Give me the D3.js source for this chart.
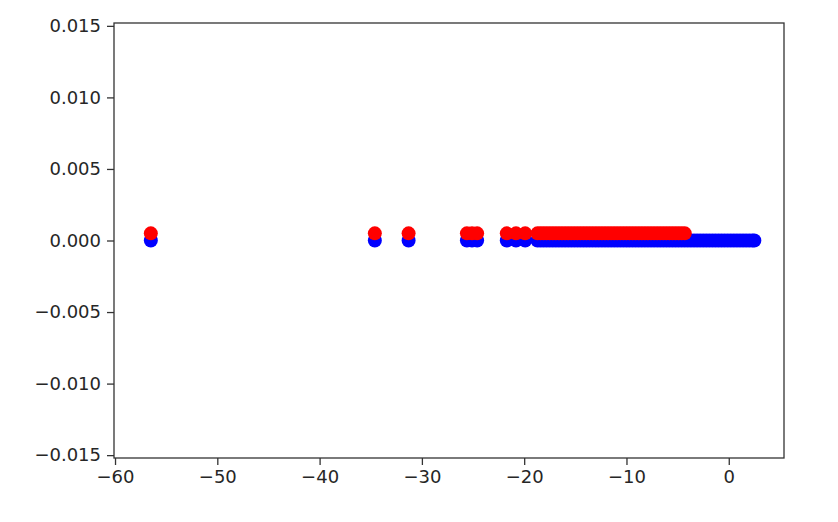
<html>
<head>
<meta charset="utf-8">
<title>Scatter</title>
<style>
body { margin: 0; background: white; }
svg { display: block; }
.axis text { font-family: "DejaVu Sans", sans-serif; font-size: 18px; fill: #262626; }
.axis path, .axis line { stroke: #333; stroke-width: 1.3px; }
.frame { fill: none; stroke: #333; stroke-width: 1.3px; }
</style>
</head>
<body>
<svg id="chart"></svg>
<script src="https://cdn.jsdelivr.net/npm/d3@7"></script>
<script>

// x positions of each series
var xRed = [-56.5, -34.6, -31.3, -25.6, -25.1, -24.6, -21.7, -20.8, -19.9, -18.7,
  -18.4, -18.1, -17.8, -17.5, -17.2, -16.9, -16.6, -16.3, -16.0, -15.7,
  -15.4, -15.1, -14.8, -14.5, -14.2, -13.9, -13.6, -13.3, -13.0, -12.7,
  -12.4, -12.1, -11.8, -11.5, -11.2, -10.9, -10.6, -10.3, -10.0, -9.7,
  -9.4, -9.1, -8.8, -8.5, -8.2, -7.9, -7.6, -7.3, -7.0, -6.7,
  -6.4, -6.1, -5.8, -5.5, -5.2, -4.9, -4.6, -4.3];
var xBlue = [-56.5, -34.6, -31.3, -25.6, -25.1, -24.6, -21.7, -20.8, -19.9, -18.7,
  -18.4, -18.1, -17.8, -17.5, -17.2, -16.9, -16.6, -16.3, -16.0, -15.7,
  -15.4, -15.1, -14.8, -14.5, -14.2, -13.9, -13.6, -13.3, -13.0, -12.7,
  -12.4, -12.1, -11.8, -11.5, -11.2, -10.9, -10.6, -10.3, -10.0, -9.7,
  -9.4, -9.1, -8.8, -8.5, -8.2, -7.9, -7.6, -7.3, -7.0, -6.7,
  -6.4, -6.1, -5.8, -5.5, -5.2, -4.9, -4.6, -4.3, -4.0, -3.7,
  -3.4, -3.1, -2.8, -2.5, -2.2, -1.9, -1.6, -1.3, -1.0, -0.7,
  -0.4, -0.1, 0.2, 0.5, 0.8, 1.1, 1.4, 1.7, 2.0, 2.3, 2.5];
var yBlue = 0;
var yRed = 0.0005;

var xTicks = [-60, -50, -40, -30, -20, -10, 0];
var yTicks = [-0.015, -0.010, -0.005, 0.000, 0.005, 0.010, 0.015];

var W = 838, H = 522;
var margin = {left: 114, right: 784, top: 23, bottom: 458};

var svg = d3.select("#chart").attr("width", W).attr("height", H);

var x = d3.scaleLinear().domain([-60.1, 5.4]).range([margin.left, margin.right]);
var y = d3.scaleLinear().domain([-0.0152, 0.0152]).range([margin.bottom, margin.top]);

var xAxis = d3.axisBottom(x).tickValues(xTicks).tickFormat(d3.format("d"))
    .tickSizeOuter(0).tickSize(7).tickPadding(5);
var yAxis = d3.axisLeft(y).tickValues(yTicks).tickFormat(d3.format(".3f"))
    .tickSizeOuter(0).tickSize(7).tickPadding(6);

svg.append("g")
    .attr("class", "x axis")
    .attr("transform", "translate(0," + margin.bottom + ")")
    .call(xAxis)
    .call(function(g) { g.select(".domain").remove(); });

svg.append("g")
    .attr("class", "y axis")
    .attr("transform", "translate(" + margin.left + ",0)")
    .call(yAxis)
    .call(function(g) { g.select(".domain").remove(); });

svg.append("g").selectAll("circle")
    .data(xBlue)
  .enter().append("circle")
    .attr("cx", function(d) { return x(d); })
    .attr("cy", y(yBlue))
    .attr("r", 7)
    .attr("fill", "blue");

svg.append("g").selectAll("circle")
    .data(xRed)
  .enter().append("circle")
    .attr("cx", function(d) { return x(d); })
    .attr("cy", y(yRed))
    .attr("r", 7)
    .attr("fill", "red");

svg.append("rect")
    .attr("class", "frame")
    .attr("x", margin.left).attr("y", margin.top)
    .attr("width", margin.right - margin.left).attr("height", margin.bottom - margin.top);

</script>
</body>
</html>
